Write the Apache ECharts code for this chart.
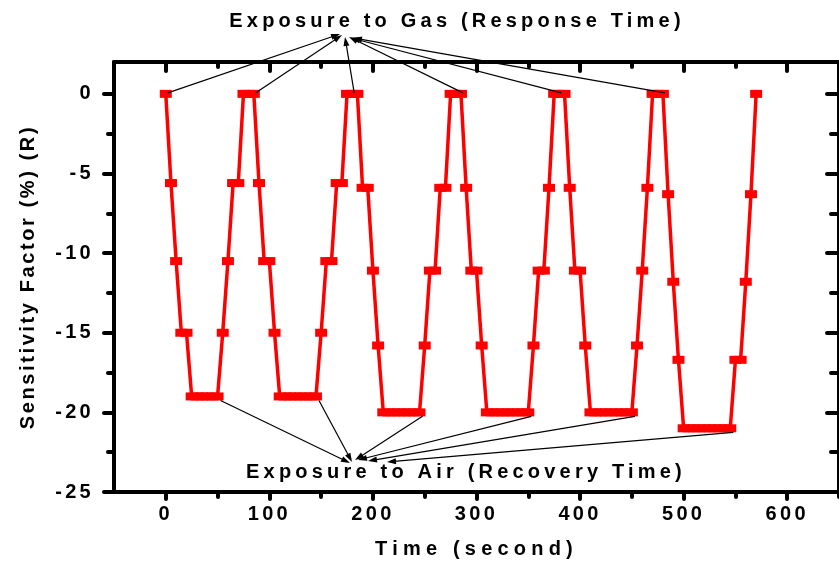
<!DOCTYPE html>
<html>
<head>
<meta charset="utf-8">
<script src="https://cdn.jsdelivr.net/npm/echarts@6/dist/echarts.min.js"></script>
<style>
  html, body { margin: 0; padding: 0; background: #ffffff; }
  #chart { width: 839px; height: 566px; }
</style>
</head>
<body>
<div id="chart"></div>
<script>
// Sampling instants of the sensor trace (seconds)
const timeSec = [
  0, 5, 10, 15, 20, 25, 30, 35, 40, 45, 50, 55, 60, 65, 70, 75, 80, 85, 90, 95,
  100, 105, 110, 115, 120, 125, 130, 135, 140, 145, 150, 155, 160, 165, 170, 175, 180, 185, 190, 195,
  200, 205, 210, 215, 220, 225, 230, 235, 240, 245, 250, 255, 260, 265, 270, 275, 280, 285, 290, 295,
  300, 305, 310, 315, 320, 325, 330, 335, 340, 345, 350, 355, 360, 365, 370, 375, 380, 385, 390, 395,
  400, 405, 410, 415, 420, 425, 430, 435, 440, 445, 450, 455, 460, 465, 470, 475, 480, 485, 490, 495,
  500, 505, 510, 515, 520, 525, 530, 535, 540, 545, 550, 555, 560, 565, 570
];

// Sensitivity factor R (%) at each sampling instant
const sensitivity = [
  0, -5.6, -10.5, -15, -15, -19, -19, -19, -19, -19, -19, -15, -10.5, -5.6, -5.6, 0, 0, 0, -5.6, -10.5,
  -10.5, -15, -19, -19, -19, -19, -19, -19, -19, -19, -15, -10.5, -10.5, -5.6, -5.6, 0, 0, 0, -5.9, -5.9,
  -11.1, -15.8, -20, -20, -20, -20, -20, -20, -20, -20, -15.8, -11.1, -11.1, -5.9, -5.9, 0, 0, 0, -5.9, -11.1,
  -11.1, -15.8, -20, -20, -20, -20, -20, -20, -20, -20, -20, -15.8, -11.1, -11.1, -5.9, 0, 0, 0, -5.9, -11.1,
  -11.1, -15.8, -20, -20, -20, -20, -20, -20, -20, -20, -20, -15.8, -11.1, -5.9, 0, 0, 0, -6.3, -11.8, -16.7,
  -21, -21, -21, -21, -21, -21, -21, -21, -21, -21, -16.7, -16.7, -11.8, -6.3, 0
];

// Axis tick positions
const xMajorTicks = [0, 100, 200, 300, 400, 500, 600];
const xMinorTicks = [50, 150, 250, 350, 450, 550, 650];
const yMajorTicks = [-25, -20, -15, -10, -5, 0];
const yMinorTicks = [-22.5, -17.5, -12.5, -7.5, -2.5];

// Samples the annotation arrows start from
const gasArrowTimes = [0, 85, 180, 285, 380, 480];
const airArrowTimes = [50, 145, 245, 350, 450, 545];

// Texts
const gasLabel = 'Exposure to Gas (Response Time)';
const airLabel = 'Exposure to Air (Recovery Time)';
const xTitle = 'Time (second)';
const yTitle = 'Sensitivity Factor (%) (R)';

// Wide letter spacing for the axis and annotation texts (canvas letterSpacing)
const SPACING = new Map([[gasLabel, 4.2], [airLabel, 4.2], [xTitle, 5.2], [yTitle, 2.6]]);
function spacingFor(t) {
  if (SPACING.has(t)) return SPACING.get(t);
  if (/^-?\d+$/.test(t)) return 3.3;
  return 0;
}
(function () {
  const proto = CanvasRenderingContext2D.prototype;
  if (!('letterSpacing' in proto)) return;
  const rawFillText = proto.fillText;
  proto.fillText = function (text, x, y, maxWidth) {
    const ls = spacingFor(String(text));
    const prev = this.letterSpacing;
    if (ls) this.letterSpacing = ls + 'px';
    if (maxWidth === undefined) rawFillText.call(this, text, x, y);
    else rawFillText.call(this, text, x, y, maxWidth);
    if (ls) this.letterSpacing = prev;
  };
})();

const FONT = '"Liberation Sans", Arial, Helvetica, sans-serif';
const FONT_SIZE = 20;
const textBold = { fontFamily: FONT, fontWeight: 'bold', fontSize: FONT_SIZE, color: '#000' };
const black4 = { color: '#000', width: 4, cap: 'round' };

function tickAxis(position, values, length, inside) {
  return {
    type: 'value', position: position,
    axisLine: { show: false, onZero: false },
    axisTick: { show: true, inside: inside, customValues: values, length: length, lineStyle: black4 },
    axisLabel: { show: false },
    splitLine: { show: false }
  };
}

const X_MIN = -50, X_MAX = 650, Y_MIN = -25, Y_MAX = 2;

function xAxisDef(a) { a.min = X_MIN; a.max = X_MAX; return a; }
function yAxisDef(a) { a.min = Y_MIN; a.max = Y_MAX; return a; }

const chart = echarts.init(document.getElementById('chart'), null, { renderer: 'canvas' });

const option = {
  animation: false,
  backgroundColor: '#ffffff',
  grid: { left: 114, top: 62, width: 732, height: 430, containLabel: false },
  xAxis: [
    xAxisDef({
      type: 'value', position: 'bottom',
      axisLine: { show: true, onZero: false, lineStyle: { color: '#000', width: 4 } },
      axisTick: { show: true, customValues: xMajorTicks, length: 7, lineStyle: black4 },
      axisLabel: { show: true, customValues: xMajorTicks, margin: 12, ...textBold },
      splitLine: { show: false },
      name: xTitle, nameLocation: 'middle', nameGap: 47,
      nameTextStyle: { ...textBold }
    }),
    xAxisDef(tickAxis('bottom', xMinorTicks, 5, false)),
    xAxisDef({
      type: 'value', position: 'top',
      axisLine: { show: true, onZero: false, lineStyle: { color: '#000', width: 4 } },
      axisTick: { show: true, inside: true, customValues: xMajorTicks, length: 9, lineStyle: black4 },
      axisLabel: { show: false },
      splitLine: { show: false }
    }),
    xAxisDef(tickAxis('top', xMinorTicks, 5, true))
  ],
  yAxis: [
    yAxisDef({
      type: 'value', position: 'left',
      axisLine: { show: true, onZero: false, lineStyle: { color: '#000', width: 4 } },
      axisTick: { show: true, customValues: yMajorTicks, length: 10, lineStyle: black4 },
      axisLabel: { show: true, customValues: yMajorTicks, margin: 20, ...textBold },
      splitLine: { show: false },
      name: yTitle, nameLocation: 'middle', nameGap: 76, nameRotate: 90,
      nameTextStyle: { ...textBold }
    }),
    yAxisDef(tickAxis('left', yMinorTicks, 6, false)),
    yAxisDef({
      type: 'value', position: 'right',
      axisLine: { show: true, onZero: false, lineStyle: { color: '#000', width: 4 } },
      axisTick: { show: true, inside: true, customValues: yMajorTicks, length: 12, lineStyle: black4 },
      axisLabel: { show: false },
      splitLine: { show: false }
    }),
    yAxisDef(tickAxis('right', yMinorTicks, 8, true))
  ],
  series: [{
    type: 'line',
    xAxisIndex: 0, yAxisIndex: 0,
    data: timeSec.map((t, i) => [t, sensitivity[i]]),
    symbol: 'rect',
    symbolSize: [12, 8],
    showAllSymbol: true,
    clip: false,
    lineStyle: { color: '#ff0000', width: 3.5 },
    itemStyle: { color: '#ff0000' },
    emphasis: { disabled: true }
  }]
};

chart.setOption(option);

// Annotation arrows: from selected samples to the two captions
const gasHeads = [[340, 34], [342, 35], [345, 37], [349, 37], [351, 38], [353, 38]];
const airHeads = [[350, 463], [352, 462], [355, 460], [358, 460], [368, 461], [387, 462]];

function valueAt(t) { return sensitivity[timeSec.indexOf(t)]; }

function arrow(from, to) {
  const len = 9, half = 3;
  const dx = to[0] - from[0], dy = to[1] - from[1];
  const d = Math.hypot(dx, dy);
  const ux = dx / d, uy = dy / d;
  const bx = to[0] - ux * len, by = to[1] - uy * len;
  return [
    { type: 'line', silent: true, z: 100,
      shape: { x1: from[0], y1: from[1], x2: bx + ux * 2, y2: by + uy * 2 },
      style: { stroke: '#000', lineWidth: 1.2 } },
    { type: 'polygon', silent: true, z: 100,
      shape: { points: [[to[0], to[1]], [bx - uy * half, by + ux * half], [bx + uy * half, by - ux * half]] },
      style: { fill: '#000' } }
  ];
}

const graphics = [];
gasArrowTimes.forEach((t, i) => {
  const p = chart.convertToPixel({ xAxisIndex: 0, yAxisIndex: 0 }, [t, valueAt(t)]);
  graphics.push(...arrow([p[0] + 2, p[1] - 1], gasHeads[i]));
});
airArrowTimes.forEach((t, i) => {
  const p = chart.convertToPixel({ xAxisIndex: 0, yAxisIndex: 0 }, [t, valueAt(t)]);
  graphics.push(...arrow([p[0] + 3, p[1] + 4], airHeads[i]));
});
graphics.push({
  type: 'text', silent: true, z: 100, x: 457, y: 21,
  style: { text: gasLabel, font: 'bold ' + FONT_SIZE + 'px ' + FONT, fill: '#000', align: 'center', verticalAlign: 'middle' }
});
graphics.push({
  type: 'text', silent: true, z: 100, x: 466, y: 472,
  style: { text: airLabel, font: 'bold ' + FONT_SIZE + 'px ' + FONT, fill: '#000', align: 'center', verticalAlign: 'middle' }
});

chart.setOption({ graphic: graphics });
</script>
</body>
</html>
